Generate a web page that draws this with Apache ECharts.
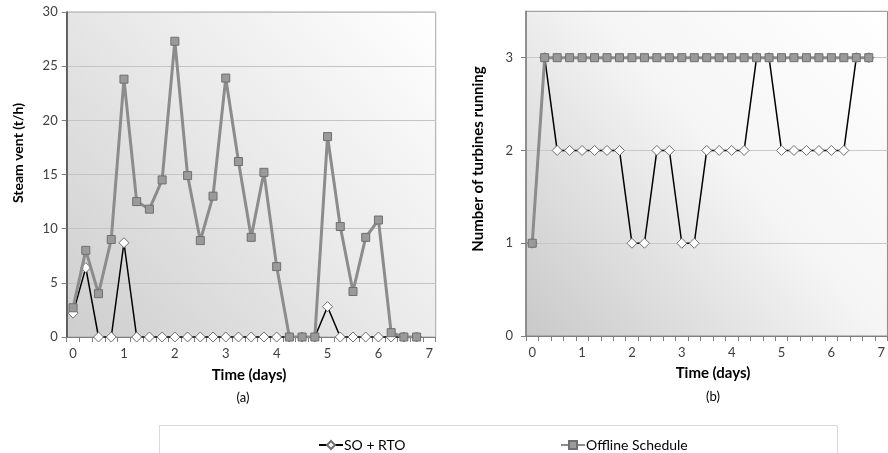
<!DOCTYPE html>
<html>
<head>
<meta charset="utf-8">
<script src="https://cdn.jsdelivr.net/npm/echarts@6/dist/echarts.min.js"></script>
<style>
html,body{margin:0;padding:0;background:#fff;}
#c{width:888px;height:453px;}
</style>
</head>
<body>
<div id="c"></div>
<script>
// ---- data ----
const timeDays = [0, 0.25, 0.5, 0.75, 1, 1.25, 1.5, 1.75, 2, 2.25, 2.5, 2.75, 3, 3.25, 3.5, 3.75, 4, 4.25, 4.5, 4.75, 5, 5.25, 5.5, 5.75, 6, 6.25, 6.5, 6.75];
const ventSoRto   = [2.2, 6.4, 0, 0, 8.7, 0, 0, 0, 0, 0, 0, 0, 0, 0, 0, 0, 0, 0, 0, 0, 2.8, 0, 0, 0, 0, 0, 0, 0];
const ventOffline = [2.7, 8.0, 4.0, 9.0, 23.8, 12.5, 11.8, 14.5, 27.3, 14.9, 8.9, 13.0, 23.9, 16.2, 9.2, 15.2, 6.5, 0, 0, 0, 18.5, 10.2, 4.2, 9.2, 10.8, 0.4, 0, 0];
const turbSoRto   = [1, 3, 2, 2, 2, 2, 2, 2, 1, 1, 2, 2, 1, 1, 2, 2, 2, 2, 3, 3, 2, 2, 2, 2, 2, 2, 3, 3];
const turbOffline = [1, 3, 3, 3, 3, 3, 3, 3, 3, 3, 3, 3, 3, 3, 3, 3, 3, 3, 3, 3, 3, 3, 3, 3, 3, 3, 3, 3];
const xTickLabels = [0, 1, 2, 3, 4, 5, 6, 7];
const yTickLabelsA = [0, 5, 10, 15, 20, 25, 30];
const yTickLabelsB = [0, 1, 2, 3];
const seriesNames = ['SO + RTO', 'Offline Schedule'];

// ---- helpers ----
const FONT = 'Lato, "Open Sans", sans-serif';
const pairs = (xs, ys) => xs.map((x, i) => [x, ys[i]]);
const xMin = -0.125, xMax = 7.125;
const minorTicks = [];
for (let v = xMin; v <= xMax + 1e-9; v += 0.25) minorTicks.push(+v.toFixed(3));

function bg(c0, cMid, c1) {
  return { type: 'linear', x: 0, y: 1, x2: 1, y2: 0,
    colorStops: [{ offset: 0, color: c0 }, { offset: 0.55, color: cMid }, { offset: 1, color: c1 }] };
}

function xAxisDef(gi) {
  return {
    type: 'value', gridIndex: gi, min: xMin, max: xMax,
    axisLine: { show: true, onZero: false, lineStyle: { color: '#7f7f7f', width: 1 } },
    axisTick: { show: true, customValues: minorTicks, length: 5, lineStyle: { color: '#7f7f7f' } },
    axisLabel: { customValues: xTickLabels, color: '#404040', fontSize: 13, fontFamily: FONT, margin: 10 },
    splitLine: { show: false }
  };
}

const soStyle = {
  type: 'line', symbol: 'diamond', symbolSize: 10,
  lineStyle: { color: '#000', width: 1.5 },
  itemStyle: { color: '#ffffff', borderColor: '#6f6f6f', borderWidth: 1 },
  z: 2
};
const offStyle = {
  type: 'line', symbol: 'rect', symbolSize: 8,
  lineStyle: { color: '#8c8c8c', width: 3 },
  itemStyle: { color: '#9a9a9a', borderColor: '#6f6f6f', borderWidth: 1 },
  z: 3
};

const chart = echarts.init(document.getElementById('c'), null, { renderer: 'canvas' });
chart.setOption({
  animation: false,
  backgroundColor: '#ffffff',
  textStyle: { fontFamily: FONT },
  grid: [
    { left: 66.7, top: 12, width: 369, height: 325, show: true,
      backgroundColor: bg('#cecece', '#ebebeb', '#ffffff'), borderColor: '#a6a6a6', borderWidth: 1 },
    { left: 526, top: 11.3, width: 370.5, height: 324.7, show: true,
      backgroundColor: bg('#c9c9c9', '#f5f5f5', '#ffffff'), borderColor: '#8c8c8c', borderWidth: 1 }
  ],
  xAxis: [xAxisDef(0), xAxisDef(1)],
  yAxis: [
    { type: 'value', gridIndex: 0, min: 0, max: 30, interval: 5,
      axisLine: { show: true, onZero: false, lineStyle: { color: '#404040', width: 1.5 } },
      axisTick: { show: true, length: 5, lineStyle: { color: '#7f7f7f' } },
      axisLabel: { customValues: yTickLabelsA, color: '#404040', fontSize: 13, fontFamily: FONT, margin: 9 },
      splitLine: { show: true, lineStyle: { color: '#c4c4c4', width: 1 } } },
    { type: 'value', gridIndex: 1, min: 0, max: 3.5, interval: 1,
      axisLine: { show: true, onZero: false, lineStyle: { color: '#7f7f7f', width: 1.5 } },
      axisTick: { show: true, customValues: yTickLabelsB, length: 5, lineStyle: { color: '#7f7f7f' } },
      axisLabel: { customValues: yTickLabelsB, color: '#404040', fontSize: 13, fontFamily: FONT, margin: 13 },
      splitLine: { show: true, lineStyle: { color: '#c8c8c8', width: 1 } } }
  ],
  legend: [
    { data: [seriesNames[0]], left: 313, top: 433, itemWidth: 24, itemHeight: 10, itemGap: 0,
      textStyle: { color: '#000', fontSize: 14, fontFamily: FONT, padding: [0, 0, 0, -4] } },
    { data: [seriesNames[1]], left: 555, top: 433, itemWidth: 24, itemHeight: 10, itemGap: 0,
      textStyle: { color: '#000', fontSize: 14, fontFamily: FONT, padding: [0, 0, 0, -4] } }
  ],
  graphic: [
    { type: 'rect', shape: { x: 159.5, y: 425.5, width: 678, height: 40 },
      style: { fill: 'none', stroke: '#d9d9d9', lineWidth: 1 }, silent: true },
    { type: 'text', x: 18, y: 153, rotation: Math.PI / 2,
      style: { text: 'Steam vent (t/h)', font: 'bold 14px ' + FONT, fill: '#000', align: 'center', verticalAlign: 'middle' } },
    { type: 'text', x: 249, y: 375,
      style: { text: 'Time (days)', font: 'bold 15px ' + FONT, fill: '#000', align: 'center', verticalAlign: 'middle' } },
    { type: 'text', x: 243, y: 398,
      style: { text: '(a)', font: '13px ' + FONT, fill: '#000', align: 'center', verticalAlign: 'middle' } },
    { type: 'text', x: 478, y: 159, rotation: Math.PI / 2,
      style: { text: 'Number of turbines running', font: 'bold 15px ' + FONT, fill: '#000', align: 'center', verticalAlign: 'middle' } },
    { type: 'text', x: 713, y: 373,
      style: { text: 'Time (days)', font: 'bold 15px ' + FONT, fill: '#000', align: 'center', verticalAlign: 'middle' } },
    { type: 'text', x: 713, y: 397,
      style: { text: '(b)', font: '13px ' + FONT, fill: '#000', align: 'center', verticalAlign: 'middle' } }
  ],
  series: [
    Object.assign({}, soStyle, { name: seriesNames[0], xAxisIndex: 0, yAxisIndex: 0, data: pairs(timeDays, ventSoRto) }),
    Object.assign({}, offStyle, { name: seriesNames[1], xAxisIndex: 0, yAxisIndex: 0, data: pairs(timeDays, ventOffline) }),
    Object.assign({}, soStyle, { name: seriesNames[0], xAxisIndex: 1, yAxisIndex: 1, data: pairs(timeDays, turbSoRto) }),
    Object.assign({}, offStyle, { name: seriesNames[1], xAxisIndex: 1, yAxisIndex: 1, data: pairs(timeDays, turbOffline) })
  ]
});
</script>
</body>
</html>
